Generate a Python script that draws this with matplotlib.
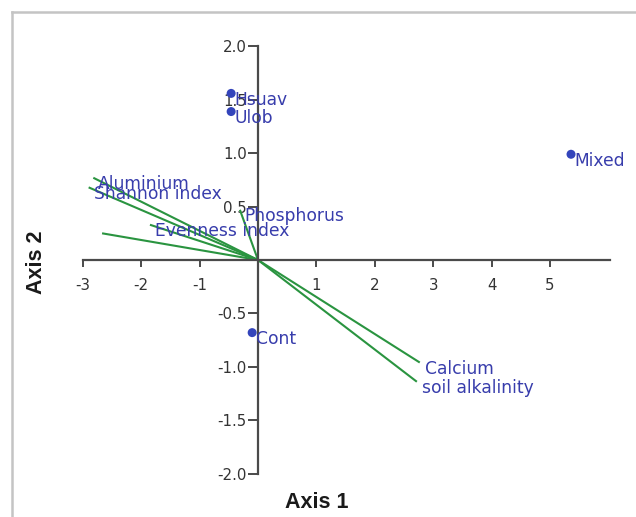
import matplotlib
matplotlib.use("Agg")
import matplotlib.pyplot as plt
from matplotlib.lines import Line2D

plt.rcParams['axes.unicode_minus'] = False
plt.rcParams['font.family'] = ['DejaVu Sans']

# Sites (blue points)
site_names = ["Hsuav", "Ulob", "Mixed", "Cont"]
site_x = [-0.46, -0.46, 5.36, -0.10]
site_y = [1.56, 1.39, 0.99, -0.68]

# Environmental vectors (green lines from origin)
vec_names = ["Aluminium", "Shannon index", "Evenness index", "", "Phosphorus", "Calcium", "soil alkalinity"]
vec_x = [-2.82, -2.90, -1.85, -2.67, -0.31, 2.77, 2.72]
vec_y = [0.77, 0.68, 0.33, 0.25, 0.47, -0.96, -1.14]

xticks = [-3, -2, -1, 1, 2, 3, 4, 5]
yticks = [-2.0, -1.5, -1.0, -0.5, 0.5, 1.0, 1.5, 2.0]
ytick_labels = ["-2.0", "-1.5", "-1.0", "-0.5", "0.5", "1.0", "1.5", "2.0"]

W, H = 636, 517
fig = plt.figure(figsize=(W / 100, H / 100), dpi=100)

# axes placement (pixel based)
sx, sy = 58.4, 106.8
ox, oy = 258, 260
xlim = (-3.1, 6.1)
ylim = (-2.1, 2.1)
left = (ox + xlim[0] * sx) / W
right = (ox + xlim[1] * sx) / W
top = (oy - ylim[1] * sy)
bottom = (oy - ylim[0] * sy)
ax = fig.add_axes([left, 1 - bottom / H, right - left, (bottom - top) / H])
ax.set_xlim(*xlim)
ax.set_ylim(*ylim)

green = "#2a9440"
blue_txt = "#383dac"
blue_pt = "#3344bb"

for name, vx, vy in zip(vec_names, vec_x, vec_y):
    ax.plot([0, vx], [0, vy], color=green, lw=1.5, zorder=2, solid_capstyle='butt')
    if name:
        ax.annotate(name, (vx, vy), xytext=(3.5, -4.5), textcoords='offset points',
                    ha='left', va='center', color=blue_txt, fontsize=12.3, zorder=4)

ax.scatter(site_x, site_y, s=42, color=blue_pt, zorder=5, edgecolors='none')
for name, px, py in zip(site_names, site_x, site_y):
    ax.annotate(name, (px, py), xytext=(2.5, -4.5), textcoords='offset points',
                ha='left', va='center', color=blue_txt, fontsize=12.3, zorder=6)

for s in ['top', 'right']:
    ax.spines[s].set_visible(False)
ax.spines['left'].set_position(('data', 0))
ax.spines['bottom'].set_position(('data', 0))
ax.spines['left'].set_bounds(-2, 2)
ax.spines['bottom'].set_bounds(-3, 6.02)
for s in ['left', 'bottom']:
    ax.spines[s].set_color('#4a4a4a')
    ax.spines[s].set_linewidth(1.6)
    ax.spines[s].set_zorder(3)

ax.set_xticks(xticks)
ax.set_xticklabels([str(t) for t in xticks])
ax.set_yticks(yticks)
ax.set_yticklabels(ytick_labels)
ax.tick_params(axis='x', direction='out', length=5, width=1.4, color='#4a4a4a',
               labelsize=10.8, labelcolor='#333333', pad=8)
ax.tick_params(axis='y', direction='out', length=7, width=1.4, color='#4a4a4a',
               labelsize=10.8, labelcolor='#333333', pad=1)
ax.patch.set_visible(False)

fig.text(317 / W, 1 - 502 / H, "Axis 1", ha='center', va='center', fontsize=15.5,
         fontweight='bold', family='Liberation Sans', color='#1a1a1a')
fig.text(37 / W, 1 - 262 / H, "Axis 2", ha='center', va='center', fontsize=15.5,
         fontweight='bold', family='Liberation Sans', color='#1a1a1a', rotation=90)

# light gray frame (top and left)
fig.add_artist(Line2D([12 / W, 1], [1 - 12 / H, 1 - 12 / H], transform=fig.transFigure,
                      color='#c4c4c4', lw=1.8))
fig.add_artist(Line2D([12 / W, 12 / W], [0, 1 - 12 / H], transform=fig.transFigure,
                      color='#c4c4c4', lw=1.8))

fig.savefig("out.png", dpi=100)
